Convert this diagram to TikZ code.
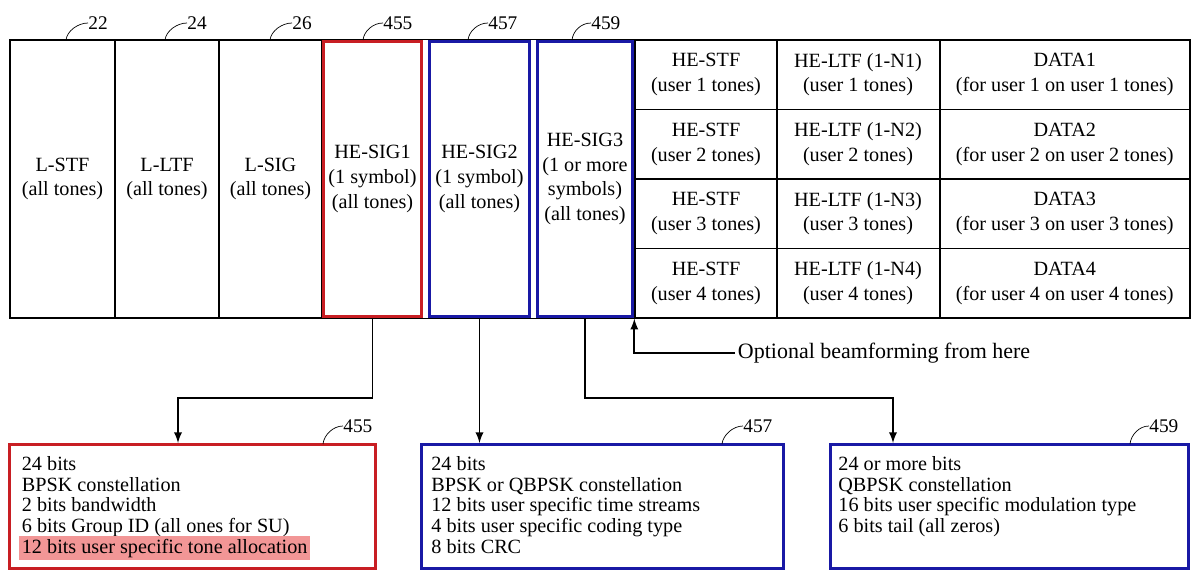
\documentclass[tikz,border=0pt]{standalone}
\usepackage{fontspec}
\setmainfont{Liberation Serif}
\usepackage{tikz}
\usetikzlibrary{arrows,positioning}
\definecolor{sigred}{RGB}{200,30,35}
\definecolor{sigblue}{RGB}{25,25,165}
\definecolor{hlpink}{RGB}{242,150,150}

\begin{document}
\begin{tikzpicture}[x=0.02cm,y=-0.02cm,
  field/.style={draw,line width=0.8pt,inner sep=0pt,minimum height=5.56cm,align=center,font=\fontsize{11.5}{14}\selectfont},
  sigfield/.style={field,line width=1.7pt,minimum height=5.5cm},
  cell/.style={draw,line width=0.8pt,inner sep=0pt,minimum height=1.39cm,align=center,font=\fontsize{11.5}{14}\selectfont},
  refnum/.style={anchor=west,inner sep=0pt,font=\fontsize{11}{12}\selectfont},
  infobox/.style={draw,line width=1.7pt,inner sep=0pt,minimum height=2.48cm},
  infotext/.style={inner sep=0pt,align=left,font=\fontsize{11.5}{11.8}\selectfont},
  arr/.style={-latex,line width=1.1pt}]
\useasboundingbox (0,0) rectangle (1191,572);
% preamble fields
\node[field,minimum width=2.1cm] (lstf) at (62.5,179) {L-STF\\(all tones)};
\node[field,minimum width=2.08cm] (lltf) at (167,179) {L-LTF\\(all tones)};
\node[field,minimum width=2.06cm] (lsig) at (270.5,179) {L-SIG\\(all tones)};
\node[sigfield,draw=sigred,minimum width=1.96cm] (sig1) at (372.5,179) {HE-SIG1\\(1 symbol)\\(all tones)};
\node[sigfield,draw=sigblue,minimum width=2cm] (sig2) at (479.5,179) {HE-SIG2\\(1 symbol)\\(all tones)};
\node[sigfield,draw=sigblue,minimum width=1.9cm] (sig3) at (585,179) {HE-SIG3\\(1 or more\\symbols)\\(all tones)};
% per user fields
\node[cell,minimum width=2.84cm] (hestf1) at (706,74.75) {HE-STF\\(user 1 tones)};
\node[cell,minimum width=3.26cm] (heltf1) at (858,74.75) {HE-LTF (1-N1)\\(user 1 tones)};
\node[cell,minimum width=4.99cm] (data1) at (1064.75,74.75) {DATA1\\(for user 1 on user 1 tones)};
\node[cell,minimum width=2.84cm] (hestf2) at (706,144.25) {HE-STF\\(user 2 tones)};
\node[cell,minimum width=3.26cm] (heltf2) at (858,144.25) {HE-LTF (1-N2)\\(user 2 tones)};
\node[cell,minimum width=4.99cm] (data2) at (1064.75,144.25) {DATA2\\(for user 2 on user 2 tones)};
\node[cell,minimum width=2.84cm] (hestf3) at (706,213.75) {HE-STF\\(user 3 tones)};
\node[cell,minimum width=3.26cm] (heltf3) at (858,213.75) {HE-LTF (1-N3)\\(user 3 tones)};
\node[cell,minimum width=4.99cm] (data3) at (1064.75,213.75) {DATA3\\(for user 3 on user 3 tones)};
\node[cell,minimum width=2.84cm] (hestf4) at (706,283.25) {HE-STF\\(user 4 tones)};
\node[cell,minimum width=3.26cm] (heltf4) at (858,283.25) {HE-LTF (1-N4)\\(user 4 tones)};
\node[cell,minimum width=4.99cm] (data4) at (1064.75,283.25) {DATA4\\(for user 4 on user 4 tones)};
\draw[line width=0.8pt] (lstf.north west) rectangle (data4.south east);
% reference numerals
\node[refnum] (n22) at (88,23) {22};
\node[refnum] (n24) at (187,23) {24};
\node[refnum] (n26) at (292,23) {26};
\node[refnum] (n455) at (383,23) {455};
\node[refnum] (n457) at (488,23) {457};
\node[refnum] (n459) at (591,23) {459};
\coordinate (c22) at (66,40);
\coordinate (c24) at (165,40);
\coordinate (c26) at (270,40);
\coordinate (c455) at (363,40);
\coordinate (c457) at (468,40);
\coordinate (c459) at (572,40);
\draw (c22) .. controls +(1,-9) and +(-10,0) .. (n22.west);
\draw (c24) .. controls +(1,-9) and +(-10,0) .. (n24.west);
\draw (c26) .. controls +(1,-9) and +(-10,0) .. (n26.west);
\draw (c455) .. controls +(1,-9) and +(-10,0) .. (n455.west);
\draw (c457) .. controls +(1,-9) and +(-10,0) .. (n457.west);
\draw (c459) .. controls +(1,-9) and +(-10,0) .. (n459.west);
% beamforming note
\node[anchor=west,inner sep=1.5pt,font=\fontsize{12.5}{14}\selectfont] (beam) at (735,353) {Optional beamforming from here};
\draw[arr] (beam.west) -| (hestf4.south west);
% signal field contents
\node[infobox,draw=sigred,minimum width=7.32cm] (b455) at (192.5,506.5) {};
\node[infobox,draw=sigblue,minimum width=7.24cm] (b457) at (602.5,506.5) {};
\node[infobox,draw=sigblue,minimum width=7.16cm] (b459) at (1009.5,506.5) {};
\node[infotext,below right=0.26cm and 0.27cm of b455.north west] (t455) {24 bits\\BPSK constellation\\2 bits bandwidth\\6 bits Group ID (all ones for SU)\\\hspace*{-1.5pt}\smash{\setlength\fboxsep{1.5pt}\colorbox{hlpink}{12 bits user specific tone allocation}}};
\node[infotext,below right=0.26cm and 0.22cm of b457.north west] (t457) {24 bits\\BPSK or QBPSK constellation\\12 bits user specific time streams\\4 bits user specific coding type\\8 bits CRC};
\node[infotext,below right=0.26cm and 0.18cm of b459.north west] (t459) {24 or more bits\\QBPSK constellation\\16 bits user specific modulation type\\6 bits tail (all zeros)};
\node[refnum] (m455) at (343,426) {455};
\node[refnum] (m457) at (743,426) {457};
\node[refnum] (m459) at (1149,426) {459};
\coordinate (d455) at (323,444);
\coordinate (d457) at (722,444);
\coordinate (d459) at (1130,444);
\draw (d455) .. controls +(1,-9) and +(-10,0) .. (m455.west);
\draw (d457) .. controls +(1,-9) and +(-10,0) .. (m457.west);
\draw (d459) .. controls +(1,-9) and +(-10,0) .. (m459.west);
% connectors
\coordinate (j455) at (178,398);
\coordinate (j459) at (893,398);
\draw[arr] (sig1.south) |- (j455) -- (j455 |- b455.north);
\draw[arr] (sig2.south) -- (sig2.south |- b457.north);
\draw[arr] (sig3.south) |- (j459) -- (j459 |- b459.north);
\end{tikzpicture}
\end{document}
